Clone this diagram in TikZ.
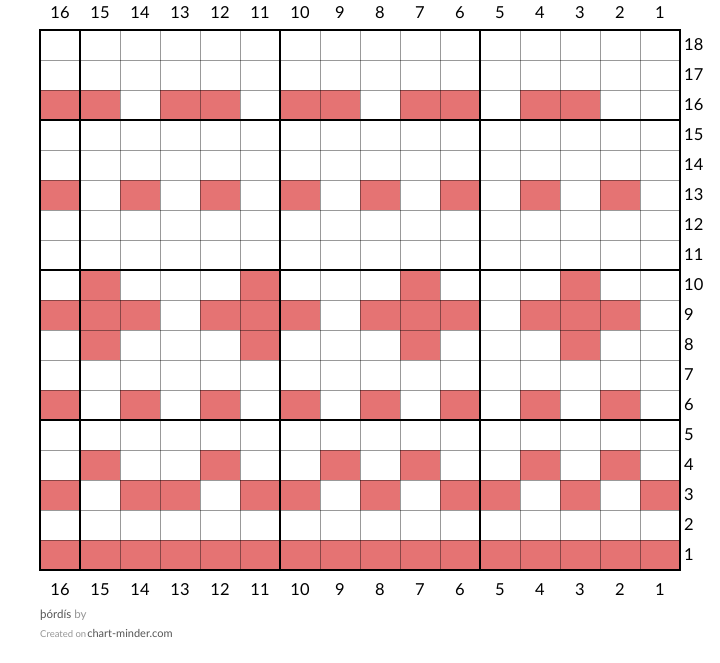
\documentclass[tikz,border=0pt]{standalone}
\usepackage{fontspec}
\setmainfont{Lato}
\definecolor{stitch}{RGB}{229,115,115}
\definecolor{footdark}{RGB}{85,85,85}
\definecolor{footlight}{RGB}{150,150,150}
\tikzset{
  filledcell/.style={fill=stitch, draw=none},
  thinline/.style={draw=black, draw opacity=0.4, line width=0.9pt},
  thickline/.style={draw=black, line width=2pt},
  numlabel/.style={font=\fontsize{16.5}{18}\selectfont, text=black, inner sep=0pt},
  foota/.style={font=\fontsize{11.5}{13}\selectfont, inner sep=0pt, anchor=west},
  footb/.style={font=\fontsize{11}{12}\selectfont, inner sep=0pt, anchor=west}
}
\begin{document}
\begin{tikzpicture}[x=1pt,y=-1pt]
\useasboundingbox (0,0) rectangle (720,663);
\fill[white] (0,0) rectangle (720,663);
% filled stitches
\foreach \r/\cols in {
  16/{16,15,13,12,10,9,7,6,4,3},
  13/{16,14,12,10,8,6,4,2},
  10/{15,11,7,3},
  9/{16,15,14,12,11,10,8,7,6,4,3,2},
  8/{15,11,7,3},
  6/{16,14,12,10,8,6,4,2},
  4/{15,12,9,7,4,2},
  3/{16,14,13,11,10,8,6,5,3,1},
  1/{16,15,14,13,12,11,10,9,8,7,6,5,4,3,2,1}}{
  \foreach \c in \cols {
    \path[filledcell] ({40+(16-\c)*40},{30+(18-\r)*30}) rectangle ++(40,30);
  }
}
% thin grid
\foreach \i in {1,...,15} {
  \draw[thinline] ({40+\i*40},30) -- ({40+\i*40},570);
}
\foreach \j in {1,...,17} {
  \draw[thinline] (40,{30+\j*30}) -- (680,{30+\j*30});
}
% thick grid
\foreach \xx in {80,280,480} {
  \draw[thickline] (\xx,30) -- (\xx,570);
}
\foreach \yy in {120,270,420} {
  \draw[thickline] (40,\yy) -- (680,\yy);
}
\draw[thickline] (40,30) rectangle (680,570);
% column numbers
\foreach \c in {1,...,16} {
  \node[numlabel] (top\c) at ({60+(16-\c)*40},13) {\c};
  \node[numlabel] (bot\c) at ({60+(16-\c)*40},590) {\c};
}
% row numbers
\foreach \r in {1,...,18} {
  \node[numlabel, anchor=west] (row\r) at (684,{45+(18-\r)*30}) {\r};
}
% footer
\node[foota] (author) at (40,615) {\textcolor{footdark}{þórdís} \textcolor{footlight}{by}};
\node[footb] (created) at (40,633) {\textcolor{footlight}{\fontsize{9.5}{11}\selectfont Created on}\hspace{1pt}\textcolor{footdark}{chart-minder.com}};
\end{tikzpicture}
\end{document}
